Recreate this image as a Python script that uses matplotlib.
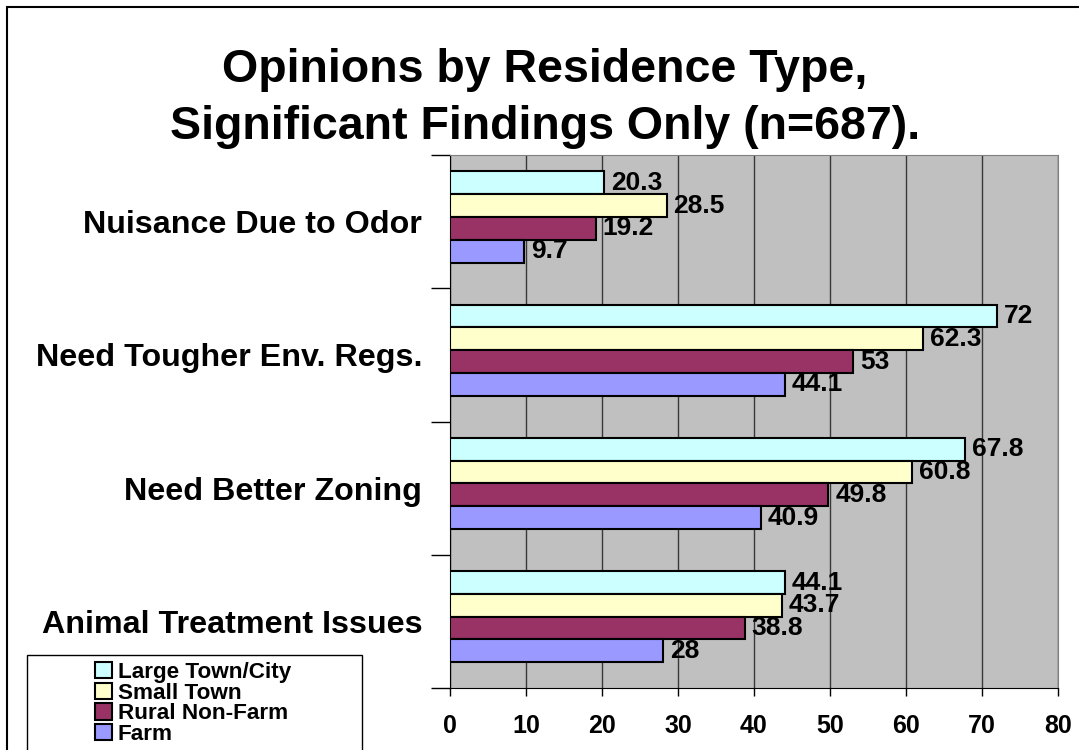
import numpy as np
import matplotlib
matplotlib.use("Agg")
import matplotlib.pyplot as plt
from matplotlib.patches import Rectangle, Patch

plt.rcParams['font.family'] = ['Liberation Sans', 'DejaVu Sans']
plt.rcParams['font.weight'] = 'bold'

# data (top to bottom)
categories = ['Nuisance Due to Odor', 'Need Tougher Env. Regs.',
              'Need Better Zoning', 'Animal Treatment Issues']
series = ['Large Town/City', 'Small Town', 'Rural Non-Farm', 'Farm']
large_town = [20.3, 72, 67.8, 44.1]
small_town = [28.5, 62.3, 60.8, 43.7]
rural_nonfarm = [19.2, 53, 49.8, 38.8]
farm = [9.7, 44.1, 40.9, 28]
colors = ['#CCFFFF', '#FFFFCC', '#993366', '#9999FF']
values = [large_town, small_town, rural_nonfarm, farm]

W, H = 1079, 750
fig = plt.figure(figsize=(W / 100, H / 100), dpi=100)
fig.patch.set_facecolor('white')

# outer border (runs off right/bottom edge)
fig.patches.append(Rectangle((7 / W, -0.1), 1.2, (H - 7) / H + 0.1,
                             transform=fig.transFigure, fill=False,
                             edgecolor='black', linewidth=1.5))

ax = fig.add_axes([450 / W, (H - 688) / H, (1058 - 450) / W, (688 - 155) / H])
ax.set_facecolor('#C0C0C0')

y = np.arange(len(categories))
h = 0.171
for j, (vals, c) in enumerate(zip(values, colors)):
    pos = y + (j - 1.5) * h - 0.035
    ax.barh(pos, vals, height=h, color=c, edgecolor='black', linewidth=1.5, zorder=3)
    for p, v in zip(pos, vals):
        ax.annotate(f'{v:g}', (v, p), xytext=(5, 0), textcoords='offset points',
                    va='center', ha='left', fontsize=19, fontweight='bold', zorder=4)

ax.set_xlim(0, 80)
ax.set_ylim(len(categories) - 0.5, -0.5)
ax.set_xticks(np.arange(0, 81, 10))
ax.grid(axis='x', color='#383838', linewidth=1, zorder=1)
ax.tick_params(axis='x', direction='out', length=6, width=1, pad=13, labelsize=18)

ax.set_yticks(y)
ax.set_yticklabels(categories, fontsize=23.2, fontweight='bold')
ax.set_yticks(np.arange(-0.5, len(categories)), minor=True)
ax.tick_params(axis='y', which='major', length=0, pad=20)
ax.tick_params(axis='y', which='minor', length=14, width=1, direction='out')
for lab in ax.get_xticklabels():
    lab.set_fontweight('bold')

for side in ['top', 'right']:
    ax.spines[side].set_color('#808080')
ax.spines['left'].set_color('black')
ax.spines['bottom'].set_color('black')

fig.text(545 / W, 1 - 70 / H, 'Opinions by Residence Type,', ha='center', va='center',
         fontsize=33.5, fontweight='bold')
fig.text(545 / W, 1 - 127 / H, 'Significant Findings Only (n=687).', ha='center',
         va='center', fontsize=33.5, fontweight='bold')

# legend box
fig.patches.append(Rectangle((27 / W, -0.1), (362 - 27) / W, (H - 655) / H + 0.1,
                             transform=fig.transFigure, fill=True, facecolor='white',
                             edgecolor='black', linewidth=1))
handles = [Patch(facecolor=c, edgecolor='black', linewidth=1.5) for c in colors]
fig.legend(handles, series, loc='upper left', bbox_to_anchor=(95 / W, 1 - 662 / H),
           frameon=False, prop={'weight': 'bold', 'size': 16.2},
           handlelength=0.75, handleheight=0.75, handletextpad=0.25,
           labelspacing=-0.02, borderaxespad=0, borderpad=0)

plt.savefig('out.png', dpi=100)
